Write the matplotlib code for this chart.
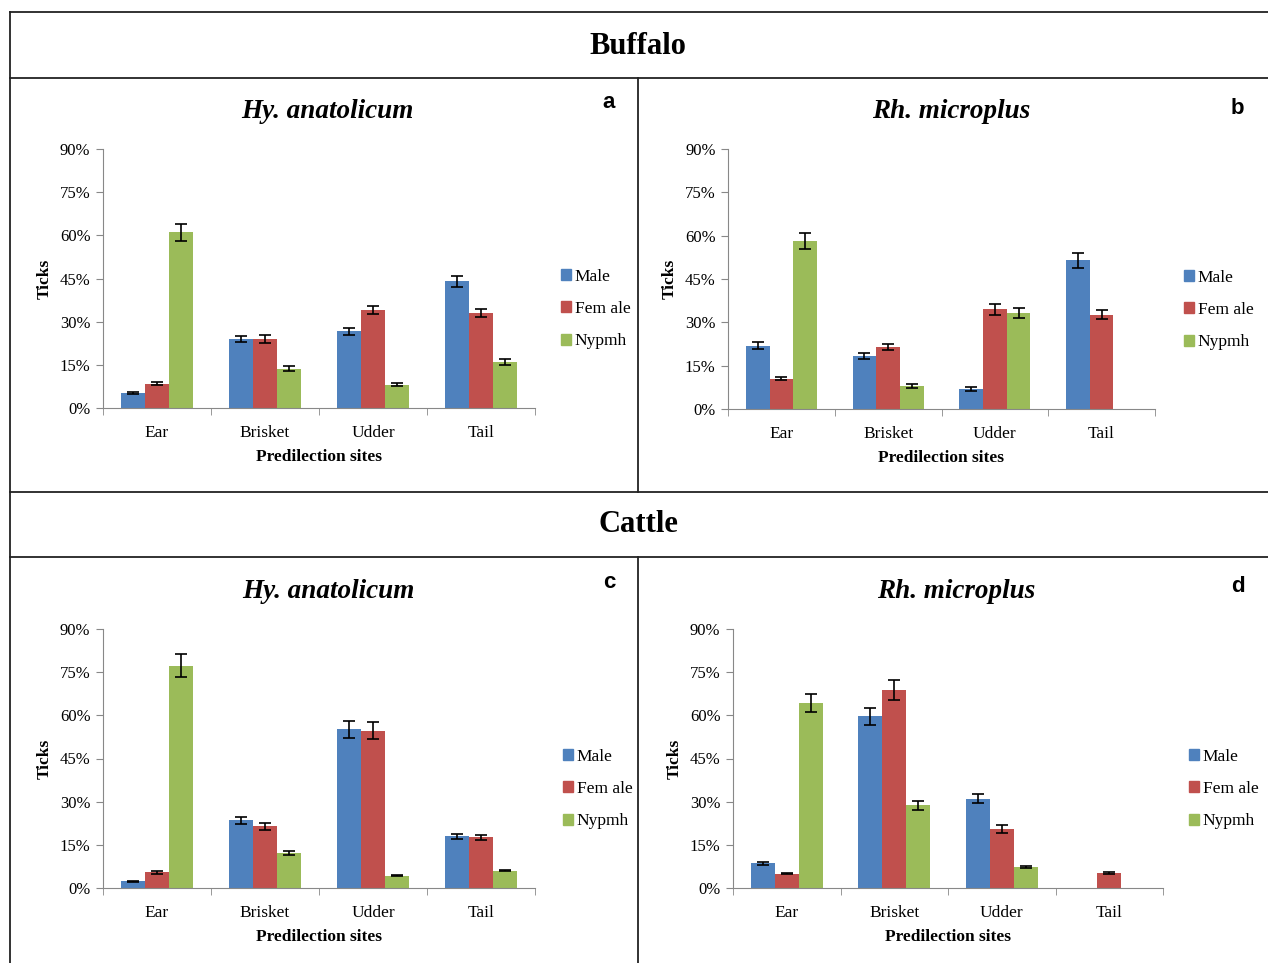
import numpy as np
import matplotlib
matplotlib.use("Agg")
import matplotlib.pyplot as plt
from matplotlib.lines import Line2D
from matplotlib.patches import Patch

sites = ["Ear", "Brisket", "Udder", "Tail"]
stages = ["Male", "Fem ale", "Nypmh"]
colors = ["#4F81BD", "#C0504D", "#9BBB59"]

# buffalo, Hy. anatolicum (a)
a_vals = [[5.1, 24.0, 26.6, 44.0],
          [8.4, 24.0, 34.1, 33.0],
          [61.0, 13.6, 8.1, 16.1]]
a_err = [[0.3, 1.0, 1.3, 2.0],
         [0.5, 1.5, 1.5, 1.5],
         [3.0, 0.9, 0.6, 1.1]]
# buffalo, Rh. microplus (b)
b_vals = [[21.9, 18.4, 7.0, 51.5],
          [10.5, 21.5, 34.5, 32.6],
          [58.1, 8.0, 33.2, 0.0]]
b_err = [[1.3, 1.0, 0.6, 2.6],
         [0.6, 1.0, 1.8, 1.6],
         [2.7, 0.6, 1.8, 0.0]]
# cattle, Hy. anatolicum (c)
c_vals = [[2.3, 23.6, 55.1, 18.0],
          [5.4, 21.5, 54.7, 17.6],
          [77.2, 12.0, 4.2, 6.0]]
c_err = [[0.2, 1.2, 2.9, 0.8],
         [0.6, 1.2, 3.0, 0.9],
         [4.0, 0.7, 0.2, 0.2]]
# cattle, Rh. microplus (d)
d_vals = [[8.6, 59.7, 31.1, 0.0],
          [5.0, 68.7, 20.5, 5.1],
          [64.2, 28.7, 7.2, 0.0]]
d_err = [[0.5, 3.0, 1.6, 0.0],
         [0.3, 3.5, 1.4, 0.3],
         [3.2, 1.5, 0.3, 0.0]]

titles = ["Hy. anatolicum", "Rh. microplus", "Hy. anatolicum", "Rh. microplus"]
letters = ["a", "b", "c", "d"]
yticks = [0, 15, 30, 45, 60, 75, 90]

W, H = 1268, 963
fig = plt.figure(figsize=(W / 100, H / 100), dpi=100)
serif = "Liberation Serif"


def fx(px):
    return px / W


def fy(py):
    return 1 - py / H


# 面板位置 (像素): 左, 右, 0%的y, 90%的y, 标题中心, 图例左边
panels = [
    (103, 535, 408, 149, (327, 111), 561, a_vals, a_err),
    (728, 1155, 409, 149, (951, 111), 1184, b_vals, b_err),
    (103, 535, 888, 629, (328, 591), 563, c_vals, c_err),
    (733, 1163, 888, 629, (956, 591), 1189, d_vals, d_err),
]

for i, (l, r, y0, y1, tpos, legx, vals, errs) in enumerate(panels):
    ax = fig.add_axes([fx(l), fy(y0), fx(r - l), (y0 - y1) / H])
    x = np.arange(len(sites))
    bw = 0.222
    for k in range(3):
        v = np.array(vals[k])
        e = np.array(errs[k])
        pos = x + (k - 1) * bw
        ax.bar(pos, v, bw, color=colors[k], label=stages[k], zorder=2)
        m = v > 0
        ax.errorbar(pos[m], v[m], yerr=e[m], fmt="none", ecolor="black",
                    elinewidth=1.2, capsize=4, capthick=1.2, zorder=3)
    ax.set_xlim(-0.5, 3.5)
    ax.set_ylim(0, 90)
    ax.set_yticks(yticks)
    ax.set_yticklabels([f"{t}%" for t in yticks], fontfamily=serif, fontsize=12)
    ax.set_xticks(x)
    ax.set_xticklabels(sites, fontfamily=serif, fontsize=12.5)
    ax.set_xticks(np.arange(-0.5, 4.0, 1.0), minor=True)
    ax.tick_params(axis="x", which="major", length=0, pad=12)
    ax.tick_params(axis="x", which="minor", length=5, color="#888888")
    ax.tick_params(axis="y", length=5, color="#888888", pad=4)
    for s in ["top", "right"]:
        ax.spines[s].set_visible(False)
    for s in ["left", "bottom"]:
        ax.spines[s].set_color("#888888")
    ax.set_xlabel("Predilection sites", fontfamily=serif, fontweight="bold",
                  fontsize=12.5, labelpad=6)
    ax.set_ylabel("Ticks", fontfamily=serif, fontweight="bold", fontsize=12.5,
                  labelpad=5)
    fig.text(fx(tpos[0]), fy(tpos[1]), titles[i], fontfamily=serif,
             fontweight="bold", fontstyle="italic", fontsize=19.5,
             ha="center", va="center")
    handles = [Patch(color=c) for c in colors]
    fig.legend(handles, stages, loc="center left",
               bbox_to_anchor=(fx(legx), fy(y0 - 99)), frameon=False,
               prop={"family": serif, "size": 12.5}, handlelength=0.6,
               handleheight=0.6, handletextpad=0.2, labelspacing=0.95,
               borderpad=0, borderaxespad=0)

# 面板字母
for t, (px, py) in zip(letters, [(609, 103), (1237, 108), (609, 582), (1238, 587)]):
    fig.text(fx(px), fy(py), t, fontfamily="Liberation Sans", fontweight="bold",
             fontsize=16, ha="center", va="center")

# 标题行
fig.text(fx(638), fy(46), "Buffalo", fontfamily=serif, fontweight="bold",
         fontsize=22, ha="center", va="center")
fig.text(fx(638), fy(525), "Cattle", fontfamily=serif, fontweight="bold",
         fontsize=22, ha="center", va="center")

# 外框线
lines = [
    ((10, 1268), (12, 12)),
    ((10, 1268), (78, 78)),
    ((10, 1268), (492, 492)),
    ((10, 1268), (557, 557)),
    ((10, 10), (12, 963)),
    ((638, 638), (78, 492)),
    ((638, 638), (557, 963)),
]
for xs, ys in lines:
    fig.add_artist(Line2D([fx(v) for v in xs], [fy(v) for v in ys],
                          color="#222222", lw=1.3))

fig.savefig("out.png", dpi=100, facecolor="white")
